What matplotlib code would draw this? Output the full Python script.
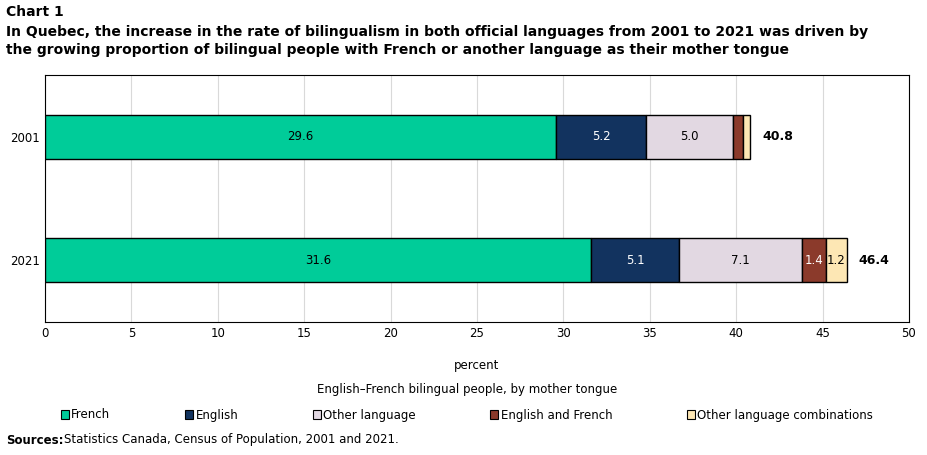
import matplotlib
matplotlib.use("Agg")
import matplotlib.pyplot as plt
from matplotlib.patches import Patch

years = ["2001", "2021"]
series = ["French", "English", "Other language", "English and French", "Other language combinations"]
french = [29.6, 31.6]
english = [5.2, 5.1]
other = [5.0, 7.1]
eng_fr = [0.6, 1.4]
other_comb = [0.4, 1.2]
totals = [40.8, 46.4]
colors = ["#00cc99", "#12335f", "#e2d8e2", "#8b3a2b", "#fde7b4"]
textcol = ["black", "white", "black", "white", "black"]

plt.rcParams["font.family"] = "DejaVu Sans"
fig = plt.figure(figsize=(9.27, 4.55), dpi=100)
ax = fig.add_axes([45/927, 1-322/455, 864/927, 247/455])
ypos = [1, 0]
left = [0, 0]
for vals, c, tc, name in zip([french, english, other, eng_fr, other_comb], colors, textcol, series):
    ax.barh(ypos, vals, left=left, color=c, edgecolor="black", linewidth=1, height=0.36, zorder=3)
    for y, v, l in zip(ypos, vals, left):
        if v >= 1.0:
            ax.text(l + v/2, y, f"{v:.1f}", ha="center", va="center", color=tc, fontsize=8.5, zorder=4)
    left = [a + b for a, b in zip(left, vals)]
for y, t, l in zip(ypos, totals, left):
    ax.text(l + 0.7, y, f"{t:.1f}", ha="left", va="center", fontsize=9, fontweight="bold")
ax.set_xlim(0, 50)
ax.set_ylim(-0.5, 1.5)
ax.set_xticks(range(0, 51, 5))
ax.set_yticks(ypos)
ax.set_yticklabels(years)
ax.tick_params(labelsize=8.5, length=0)
ax.xaxis.grid(True, color="#d9d9d9", zorder=0)
for s in ax.spines.values():
    s.set_color("black")
ax.set_xlabel("percent", fontsize=8.5, labelpad=14)

fig.text(6/927, 1-12/455, "Chart 1", fontsize=10, fontweight="bold", va="center")
fig.text(6/927, 1-32/455, "In Quebec, the increase in the rate of bilingualism in both official languages from 2001 to 2021 was driven by", fontsize=10, fontweight="bold", va="center")
fig.text(6/927, 1-50/455, "the growing proportion of bilingual people with French or another language as their mother tongue", fontsize=10, fontweight="bold", va="center")
fig.text(467/927, 1-389/455, "English\u2013French bilingual people, by mother tongue", fontsize=8.5, ha="center", va="center")
handles = [Patch(facecolor=c, edgecolor="black", linewidth=0.8) for c in colors]
fig.legend(handles, series, loc="center", bbox_to_anchor=(467/927, 1-415/455), ncol=5, frameon=False,
           fontsize=8.5, handlelength=0.7, handleheight=0.7, handletextpad=0.2, columnspacing=6.3)
fig.text(6/927, 1-440/455, "Sources:", fontsize=8.5, fontweight="bold", va="center")
fig.text(64/927, 1-440/455, "Statistics Canada, Census of Population, 2001 and 2021.", fontsize=8.5, va="center")
fig.savefig("out.png", dpi=100)
